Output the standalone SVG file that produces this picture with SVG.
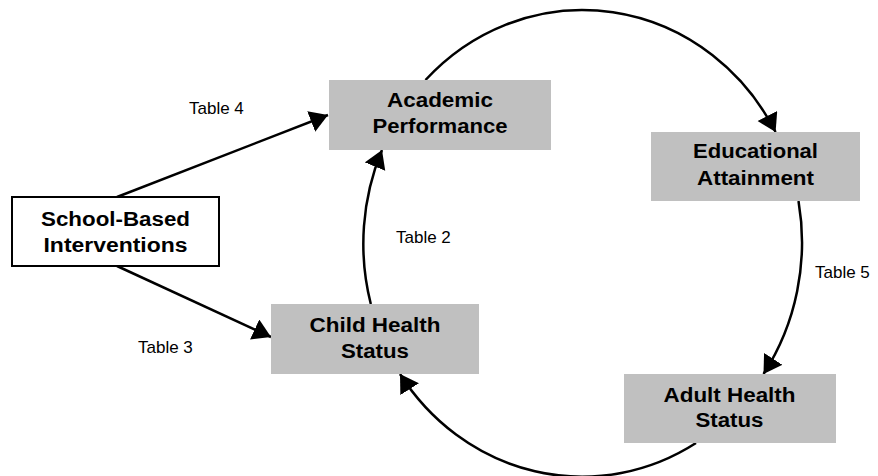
<svg xmlns="http://www.w3.org/2000/svg" width="878" height="476" viewBox="0 0 878 476">
<style>
  .box { fill: #C0C0C0; stroke: none; }
  .wbox { fill: #FFFFFF; stroke: #000; stroke-width: 2; }
  .lbl { font-family: "Liberation Sans", Arial, sans-serif; font-weight: bold; font-size: 20px; fill: #000; text-anchor: middle; }
  .tbl { font-family: "Liberation Sans", Arial, sans-serif; font-size: 17px; fill: #000; }
  .edge { fill: none; stroke: #000; stroke-width: 2.5; marker-end: url(#ah); }
</style>
<defs>
  <marker id="ah" markerUnits="userSpaceOnUse" markerWidth="20" markerHeight="24" refX="18" refY="11" orient="auto" viewBox="0 0 20 24">
    <path d="M0,0 L18,11 L0,22 z" fill="#000"/>
  </marker>
</defs>
<rect width="878" height="476" fill="#FFFFFF"/>
<g id="connectors">
  <path class="edge" d="M117,197 L328,115"/>
  <path class="edge" d="M117,266 L271,337"/>
  <path class="edge" d="M425.5,80 A219.5,232.5 0 0 1 775.6,132"/>
  <path class="edge" d="M798.5,201 A219.5,232.5 0 0 1 763.5,374"/>
  <path class="edge" d="M696,443 A219.5,232.5 0 0 1 400,374"/>
  <path class="edge" d="M370.8,304 A219.5,232.5 0 0 1 382,150"/>
</g>
<g id="academic">
  <rect class="box" x="329" y="80" width="222" height="70"/>
  <text class="lbl" x="440" y="107" textLength="106" lengthAdjust="spacingAndGlyphs">Academic</text>
  <text class="lbl" x="440" y="133" textLength="135" lengthAdjust="spacingAndGlyphs">Performance</text>
</g>
<g id="educational">
  <rect class="box" x="651" y="132" width="209" height="69"/>
  <text class="lbl" x="755.5" y="158" textLength="125" lengthAdjust="spacingAndGlyphs">Educational</text>
  <text class="lbl" x="755.5" y="185" textLength="117" lengthAdjust="spacingAndGlyphs">Attainment</text>
</g>
<g id="school">
  <rect class="wbox" x="12" y="197" width="207" height="69"/>
  <text class="lbl" x="115.5" y="226" textLength="149" lengthAdjust="spacingAndGlyphs">School-Based</text>
  <text class="lbl" x="115.5" y="252" textLength="144" lengthAdjust="spacingAndGlyphs">Interventions</text>
</g>
<g id="child">
  <rect class="box" x="271" y="304" width="208" height="70"/>
  <text class="lbl" x="375" y="332" textLength="131" lengthAdjust="spacingAndGlyphs">Child Health</text>
  <text class="lbl" x="375" y="358" textLength="68" lengthAdjust="spacingAndGlyphs">Status</text>
</g>
<g id="adult">
  <rect class="box" x="624" y="374" width="212" height="69"/>
  <text class="lbl" x="729.5" y="402" textLength="132" lengthAdjust="spacingAndGlyphs">Adult Health</text>
  <text class="lbl" x="729.5" y="427" textLength="68" lengthAdjust="spacingAndGlyphs">Status</text>
</g>
<g id="labels">
  <text class="tbl" x="189" y="114">Table 4</text>
  <text class="tbl" x="138" y="353">Table 3</text>
  <text class="tbl" x="396" y="243">Table 2</text>
  <text class="tbl" x="815" y="278">Table 5</text>
</g>
</svg>
